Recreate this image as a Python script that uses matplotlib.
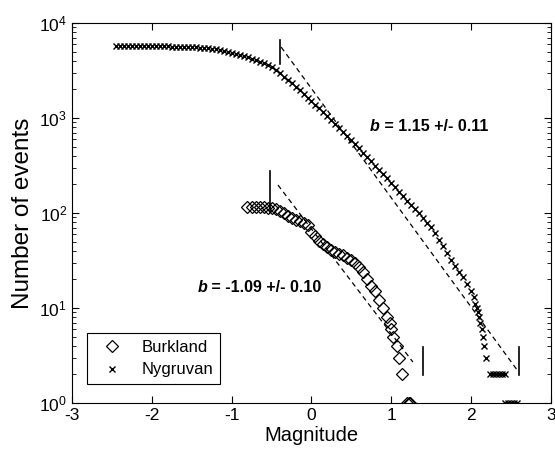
import numpy as np
import matplotlib
matplotlib.use("Agg")
import matplotlib.pyplot as plt

plt.rcParams['font.family'] = ['Liberation Sans', 'DejaVu Sans']
plt.rcParams['axes.unicode_minus'] = False

# Nygruvan cumulative counts
ny_mag = [-2.45, -2.40, -2.35, -2.30, -2.25, -2.20, -2.15, -2.10, -2.05, -2.00,
          -1.95, -1.90, -1.85, -1.80, -1.75, -1.70, -1.65, -1.60, -1.55, -1.50,
          -1.45, -1.40, -1.35, -1.30, -1.25, -1.20, -1.15, -1.10, -1.05, -1.00,
          -0.95, -0.90, -0.85, -0.80, -0.75, -0.70, -0.65, -0.60, -0.55, -0.50,
          -0.45, -0.40, -0.35, -0.30, -0.25, -0.20, -0.15, -0.10, -0.05, 0.00,
          0.05, 0.10, 0.15, 0.20, 0.25, 0.30, 0.35, 0.40, 0.45, 0.50,
          0.55, 0.60, 0.65, 0.70, 0.75, 0.80, 0.85, 0.90, 0.95, 1.00,
          1.05, 1.10, 1.15, 1.20, 1.25, 1.30, 1.35, 1.40, 1.45, 1.50,
          1.55, 1.60, 1.65, 1.70, 1.75, 1.80, 1.85, 1.90, 1.95, 2.00,
          2.03, 2.05, 2.07, 2.08, 2.10, 2.11, 2.13, 2.15, 2.16, 2.19,
          2.23, 2.27, 2.31, 2.35, 2.39, 2.43,
          2.42, 2.46, 2.50, 2.54, 2.58]
ny_n = [5730, 5730, 5725, 5720, 5720, 5715, 5710, 5705, 5700, 5700,
        5690, 5685, 5680, 5670, 5660, 5650, 5640, 5620, 5600, 5580,
        5550, 5510, 5470, 5420, 5360, 5290, 5200, 5100, 4990, 4870,
        4750, 4620, 4480, 4350, 4230, 4080, 3930, 3780, 3620, 3450,
        3210, 2965, 2735, 2520, 2310, 2120, 1950, 1790, 1640, 1500,
        1375, 1260, 1150, 1050, 955, 870, 790, 715, 645, 585,
        530, 479, 432, 389, 351, 316, 285, 257, 231, 208,
        186, 166, 150, 135, 122, 110, 99, 89, 79, 71,
        62, 52, 45, 38, 32, 28, 24, 21, 18, 15,
        13, 11, 10, 9, 8, 7, 6, 5, 4, 3,
        2, 2, 2, 2, 2, 2,
        1, 1, 1, 1, 1]

# Burkland cumulative counts
bu_mag = [-0.81, -0.75, -0.70, -0.65, -0.60, -0.55, -0.50, -0.45, -0.40, -0.35,
          -0.30, -0.25, -0.20, -0.15, -0.10, -0.05, 0.00, 0.05, 0.10, 0.15,
          0.20, 0.25, 0.30, 0.35, 0.40, 0.45, 0.50, 0.55, 0.60, 0.65,
          0.70, 0.75, 0.80, 0.85, 0.90, 0.95, 0.98, 1.00, 1.02, 1.07,
          1.10, 1.13, 1.20, 1.22, 1.24]
bu_n = [116, 117, 116, 116, 115, 114, 112, 109, 105, 100,
        94, 89, 85, 82, 79, 74, 63, 57, 51, 47,
        44, 41, 39, 37, 36, 34, 32, 30, 27, 24,
        20, 17, 15, 12, 10, 8, 7, 6, 5, 4,
        3, 2, 1, 1, 1]

# fitted Gutenberg-Richter lines (end points)
ny_fit_mag = [-0.38, 2.57]
ny_fit_n = [5580, 2.26]
bu_fit_mag = [-0.42, 1.27]
bu_fit_n = [197, 2.7]

# vertical markers: (magnitude, low, high)
ny_bars = [(-0.40, 3670, 6620), (2.60, 1.97, 3.9)]
bu_bars = [(-0.52, 103, 277), (1.40, 1.97, 3.9)]

fig = plt.figure(figsize=(5.55, 4.54), dpi=100)
ax = fig.add_axes([0.1297, 0.1123, 0.8631, 0.837])

ax.plot(bu_mag, bu_n, linestyle='none', marker='D', markersize=6,
        markerfacecolor='none', markeredgecolor='black', markeredgewidth=0.9,
        label='Burkland')
ax.plot(ny_mag, ny_n, linestyle='none', marker='x', markersize=5,
        color='black', markeredgewidth=1.0, label='Nygruvan')

ax.plot(ny_fit_mag, ny_fit_n, '--', color='black', lw=0.9, dashes=(4, 3))
ax.plot(bu_fit_mag, bu_fit_n, '--', color='black', lw=0.9, dashes=(4, 3))
for m, lo, hi in ny_bars + bu_bars:
    ax.plot([m, m], [lo, hi], color='black', lw=1.2)

t1 = ax.text(0.73, 824, 'b', fontsize=11.5, fontweight='bold', style='italic', va='center')
ax.annotate(' = 1.15 +/- 0.11', xy=(1, 0), xycoords=t1, va='bottom',
            fontsize=11.5, fontweight='bold')
t2 = ax.text(-1.43, 16.6, 'b', fontsize=11.5, fontweight='bold', style='italic', va='center')
ax.annotate(' = -1.09 +/- 0.10', xy=(1, 0), xycoords=t2, va='bottom',
            fontsize=11.5, fontweight='bold')

ax.set_yscale('log')
ax.set_xlim(-3, 3)
ax.set_ylim(1, 1e4)
ax.set_xticks([-3, -2, -1, 0, 1, 2, 3])
ax.tick_params(which='both', direction='in', top=True, right=True, labelsize=12.5)
ax.tick_params(which='major', length=5)
ax.tick_params(which='minor', length=3)
ax.set_xlabel('Magnitude', fontsize=14.5, labelpad=2)
ax.set_ylabel('Number of events', fontsize=17.5, labelpad=4)

leg = ax.legend(loc='lower left', bbox_to_anchor=(0.031, 0.05), borderaxespad=0,
                fontsize=12, numpoints=1, fancybox=False, edgecolor='black',
                framealpha=1, borderpad=0.4, handlelength=2.2, handletextpad=0.7,
                labelspacing=0.45)
leg.get_frame().set_linewidth(0.8)

fig.savefig('out.png', dpi=100)
